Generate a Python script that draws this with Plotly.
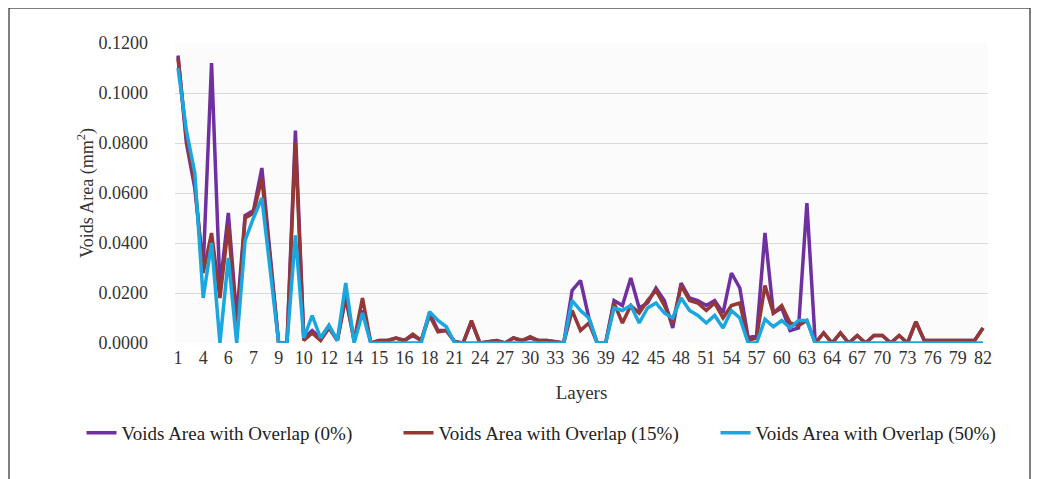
import plotly.graph_objects as go

# Layer tick labels (one shown every 3rd category, as in the source chart)
tick_labels = ["1", "4", "6", "7", "9", "10", "12", "14", "15", "16", "18", "21", "24",
               "27", "30", "33", "36", "39", "42", "45", "48", "51", "54", "57", "60",
               "63", "64", "67", "70", "73", "76", "79", "82"]

overlap_0 = [0.115, 0.080, 0.062, 0.030, 0.112, 0.022, 0.052, 0.010, 0.051, 0.053,
             0.070, 0.035, 0.000, 0.000, 0.085, 0.002, 0.005, 0.002, 0.007, 0.001,
             0.019, 0.001, 0.013, 0.000, 0.001, 0.001, 0.002, 0.001, 0.003, 0.001,
             0.012, 0.005, 0.005, 0.0005, 0.000, 0.0085, 0.000, 0.0005, 0.001, 0.000,
             0.002, 0.001, 0.002, 0.001, 0.001, 0.0005, 0.000, 0.021, 0.025, 0.010,
             0.000, 0.000, 0.017, 0.015, 0.026, 0.014, 0.016, 0.022, 0.017, 0.006,
             0.024, 0.018, 0.017, 0.015, 0.017, 0.012, 0.028, 0.022, 0.002, 0.003,
             0.044, 0.012, 0.014, 0.005, 0.006, 0.056, 0.000, 0.004, 0.000, 0.004,
             0.000, 0.003, 0.000, 0.003, 0.003, 0.000, 0.003, 0.000, 0.0085, 0.001,
             0.001, 0.001, 0.001, 0.001, 0.001, 0.001, 0.006]

overlap_15 = [0.114, 0.082, 0.064, 0.028, 0.044, 0.018, 0.047, 0.006, 0.050, 0.052,
              0.066, 0.033, 0.000, 0.000, 0.080, 0.001, 0.004, 0.001, 0.006, 0.001,
              0.018, 0.001, 0.018, 0.000, 0.001, 0.001, 0.002, 0.001, 0.0035, 0.001,
              0.011, 0.0045, 0.005, 0.0005, 0.000, 0.009, 0.000, 0.0005, 0.001, 0.000,
              0.002, 0.001, 0.0025, 0.001, 0.001, 0.0005, 0.000, 0.013, 0.005, 0.008,
              0.000, 0.000, 0.016, 0.008, 0.015, 0.012, 0.017, 0.021, 0.015, 0.008,
              0.023, 0.017, 0.016, 0.013, 0.016, 0.010, 0.015, 0.016, 0.001, 0.002,
              0.023, 0.012, 0.015, 0.008, 0.007, 0.009, 0.000, 0.004, 0.000, 0.004,
              0.000, 0.003, 0.000, 0.003, 0.003, 0.000, 0.003, 0.000, 0.0085, 0.001,
              0.001, 0.001, 0.001, 0.001, 0.001, 0.001, 0.006]

overlap_50 = [0.110, 0.085, 0.068, 0.018, 0.040, 0.000, 0.034, 0.000, 0.041, 0.050,
              0.058, 0.030, 0.000, 0.000, 0.043, 0.002, 0.011, 0.002, 0.007, 0.001,
              0.024, 0.000, 0.012, 0.000, 0.000, 0.000, 0.000, 0.000, 0.000, 0.000,
              0.0125, 0.009, 0.0065, 0.000, 0.000, 0.000, 0.000, 0.000, 0.000, 0.000,
              0.000, 0.000, 0.000, 0.000, 0.000, 0.000, 0.000, 0.017, 0.013, 0.010,
              0.000, 0.000, 0.014, 0.013, 0.015, 0.008, 0.014, 0.016, 0.012, 0.010,
              0.018, 0.013, 0.011, 0.008, 0.011, 0.006, 0.013, 0.010, 0.000, 0.000,
              0.0095, 0.0065, 0.009, 0.006, 0.009, 0.009, 0.000, 0.000, 0.000, 0.000,
              0.000, 0.000, 0.000, 0.000, 0.000, 0.000, 0.000, 0.000, 0.000, 0.000,
              0.000, 0.000, 0.000, 0.000, 0.000, 0.000, 0.000]

series = [
    ("Voids Area with Overlap (0%)", overlap_0, "#7030A0"),
    ("Voids Area with Overlap (15%)", overlap_15, "#953735"),
    ("Voids Area with Overlap (50%)", overlap_50, "#1AA7E0"),
]

FONT = "Liberation Serif"
x = list(range(len(overlap_0)))

fig = go.Figure()
for name, vals, color in series:
    fig.add_trace(go.Scatter(x=x, y=vals, mode="lines", name=name,
                             line=dict(color=color, width=3.5)))

# the page body has an 8px margin, so the figure is 8px smaller than the window
fig.update_layout(
    width=1040, height=471,
    margin=dict(l=167, r=60, t=35, b=136),
    paper_bgcolor="white",
    plot_bgcolor="#fbfbfb",
    font=dict(family=FONT, size=18, color="#333333"),
    showlegend=True,
    legend=dict(orientation="h", x=-0.115, xanchor="left", y=-0.30, yanchor="middle",
                entrywidth=272, font=dict(family=FONT, size=19, color="#222222"),
                bgcolor="rgba(0,0,0,0)"),
    xaxis=dict(
        range=[-0.36, 96.6],
        tickmode="array",
        tickvals=x[::3],
        ticktext=tick_labels,
        showgrid=False, zeroline=False, showline=False,
        ticks="", ticklabelstandoff=2,
        tickfont=dict(family=FONT, size=18),
        title=dict(text="Layers", font=dict(family=FONT, size=19), standoff=18),
    ),
    yaxis=dict(
        range=[0, 0.12],
        dtick=0.02,
        tickformat=".4f",
        showgrid=True, gridcolor="#d9d9d9", gridwidth=1,
        zeroline=False, showline=False,
        ticks="", ticklabelstandoff=26,
        tickfont=dict(family=FONT, size=18),
        title=dict(text="Voids Area (mm<sup>2</sup>)", font=dict(family=FONT, size=18), standoff=0),
    ),
    shapes=[dict(type="rect", xref="paper", yref="paper",
                 x0=(9 - 175) / 813, x1=(1030 - 175) / 813,
                 y0=(343 - 495) / 300, y1=(343 - 8) / 300,
                 line=dict(color="#000000", width=1), layer="below")],
)

fig.write_html("out.html")
